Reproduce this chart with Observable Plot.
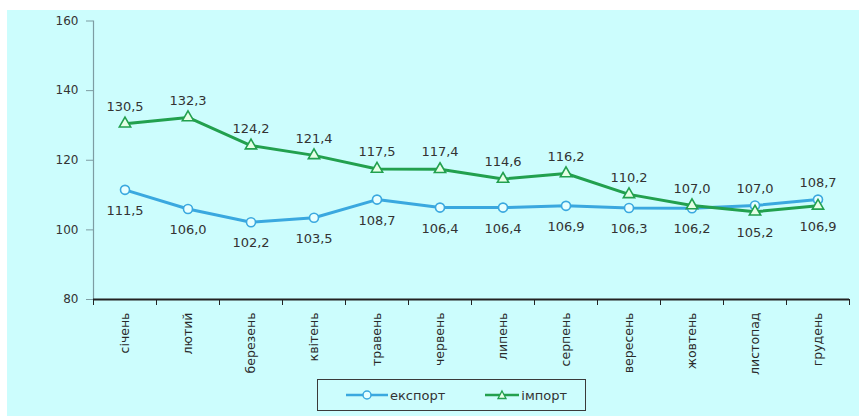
<!DOCTYPE html>
<html><head><meta charset="utf-8">
<script src="https://cdn.jsdelivr.net/npm/d3@7"></script>
<script src="https://cdn.jsdelivr.net/npm/@observablehq/plot@0.6"></script>
<style>
body{margin:0;background:#fff;}
#wrap{position:absolute;left:7px;top:10px;width:852px;height:406px;background:#ccfdfd;font-family:"DejaVu Sans",sans-serif;}
#chart{position:absolute;left:0;top:0;}
#legend{position:absolute;left:310px;top:369px;width:267px;height:30px;border:1.5px solid #3a3a3a;display:flex;align-items:center;font-size:13px;color:#333;}
#legend .item{display:flex;align-items:center;}
</style>
</head><body>
<div id="wrap"><div id="chart"></div>
<div id="legend">
  <div class="item" style="margin-left:28px"><svg width="42" height="14"><line x1="0" y1="7" x2="42" y2="7" stroke="#3aa8df" stroke-width="2.5"/><circle cx="21" cy="7" r="4" fill="#e8ffff" stroke="#3aa8df" stroke-width="1.5"/></svg><span style="margin-left:2px">експорт</span></div>
  <div class="item" style="margin-left:40px"><svg width="34" height="14"><line x1="0" y1="7" x2="34" y2="7" stroke="#22a04e" stroke-width="2.5"/><path d="M17,3 L21,10.5 L13,10.5 Z" fill="#e8ffe8" stroke="#22a04e" stroke-width="1.3"/></svg><span style="margin-left:2px">імпорт</span></div>
</div>
</div>
<script>
const months = ["січень","лютий","березень","квітень","травень","червень","липень","серпень","вересень","жовтень","листопад","грудень"];
const exportVals = [111.5,106.0,102.2,103.5,108.7,106.4,106.4,106.9,106.3,106.2,107.0,108.7];
const importVals = [130.5,132.3,124.2,121.4,117.5,117.4,114.6,116.2,110.2,107.0,105.2,106.9];
const yTicks = [80,100,120,140,160];

const blue = "#3aa8df", green = "#22a04e";
const fmt = v => v.toFixed(1).replace(".", ",");
const exp = months.map((m,i)=>({i, month:m, value:exportVals[i], other:importVals[i]}));
const imp = months.map((m,i)=>({i, month:m, value:importVals[i], other:exportVals[i]}));
const all = exp.concat(imp);
const above = all.filter(d => d.value > d.other);
const below = all.filter(d => d.value <= d.other);

const chart = Plot.plot({
  width: 852, height: 370,
  marginLeft: 86, marginRight: 10, marginTop: 10.5, marginBottom: 81,
  style: {background: "transparent", fontFamily: "DejaVu Sans", fontSize: "12px", color: "#333"},
  x: {domain: [-0.5, 11.5], label: null},
  y: {domain: [80, 160], label: null},
  marks: [
    Plot.axisY({ticks: yTicks, tickSize: 7, tickPadding: 8, stroke: "#7d9ca2", fontSize: 12, fill: "#333", label: null}),
    Plot.ruleX([-0.5], {stroke: "#7d9ca2", strokeWidth: 1.2}),
    Plot.axisX({ticks: d3.range(-0.5, 12, 1), tickFormat: () => "", tickSize: 6, stroke: "#222", label: null}),
    Plot.axisX({ticks: d3.range(12), tickFormat: i => months[i], tickSize: 0, tickPadding: 13, tickRotate: -90, fontSize: 12.5, fill: "#2a2a2a", label: null}),
    Plot.ruleY([80], {stroke: "#222", strokeWidth: 1.8}),
    Plot.line(exp, {x: "i", y: "value", stroke: blue, strokeWidth: 3}),
    Plot.line(imp, {x: "i", y: "value", stroke: green, strokeWidth: 3}),
    Plot.dot(exp, {x: "i", y: "value", r: 4.5, stroke: blue, fill: "#e6ffff", strokeWidth: 1.6}),
    Plot.dot(imp, {x: "i", y: "value", symbol: "triangle", r: 4.2, stroke: green, fill: "#e6ffe6", strokeWidth: 1.6}),
    Plot.text(above, {x: "i", y: "value", text: d => fmt(d.value), dy: -17, fontSize: 13, fill: "#333"}),
    Plot.text(below, {x: "i", y: "value", text: d => fmt(d.value), dy: 21, fontSize: 13, fill: "#333"})
  ]
});
document.getElementById("chart").appendChild(chart);
</script>
</body></html>
